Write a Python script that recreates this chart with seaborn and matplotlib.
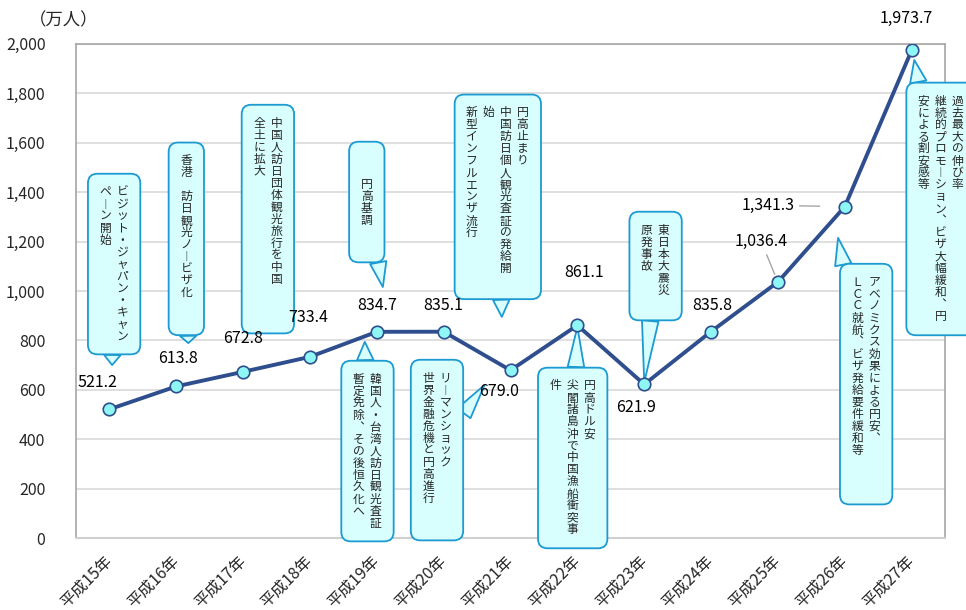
import seaborn as sns
import pandas as pd
import matplotlib.pyplot as plt

# 訪日外客数 (万人)
years = ["平成15年", "平成16年", "平成17年", "平成18年", "平成19年", "平成20年", "平成21年",
         "平成22年", "平成23年", "平成24年", "平成25年", "平成26年", "平成27年"]
visitors = [521.2, 613.8, 672.8, 733.4, 834.7, 835.1, 679.0,
            861.1, 621.9, 835.8, 1036.4, 1341.3, 1973.7]
y_ticks = list(range(0, 2001, 200))

# callout texts, one list of columns each (read right to left)
notes = [
    ["ビジット・ジャパン・キャン", "ペーン開始"],
    ["香港　訪日観光ノービザ化"],
    ["中国人訪日団体観光旅行を中国", "全土に拡大"],
    ["円高基調"],
    ["円高止まり", "中国訪日個人観光査証の発給開", "始", "新型インフルエンザ流行"],
    ["韓国人・台湾人訪日観光査証", "暫定免除、その後恒久化へ"],
    ["リーマンショック", "世界金融危機と円高進行"],
    ["円高ドル安", "尖閣諸島沖で中国漁船衝突事", "件"],
    ["東日本大震災", "原発事故"],
    ["アベノミクス効果による円安、", "ＬＣＣ就航、ビザ発給要件緩和等"],
    ["過去最大の伸び率", "継続的プロモーション、ビザ大幅緩和、円", "安による割安感等"],
]

# layout: box centre (x, y), tail tip (x, y) in data units, blank rows above / below
note_pos = [
    ((0.07, 1109), (0.04, 700), 0, 0),
    ((1.15, 1211), (1.18, 789), 0, 2),
    ((2.37, 1291), (2.37, 830), 0, 3),
    ((3.85, 1360), (4.09, 1016), 2, 2),
    ((5.81, 1381), (5.87, 895), 0, 1),
    ((3.86, 352), (3.82, 794), 0, 0),
    ((4.90, 356), (5.61, 619), 0, 2),
    ((6.93, 324), (7.0, 854), 0, 0),
    ((8.17, 1101), (8.0, 630), 0, 1),
    ((11.32, 623), (10.90, 1215), 0, 3),
    ((12.44, 1332), (12.04, 1935), 0, 0),
]

# value label offsets (points)
label_off = [(-9, 19), (1, 20), (0, 24), (-1, 28), (0, 19), (0, 19), (-8, -15),
             (5, 38), (-6, -17), (1, 19), (-12, 29), (-55, 1), (-4, 23)]

line_color = "#2F4E8E"
box_fc = "#D8FEFE"
box_ec = "#1C9AD2"


def vertical(cols, top=0, bottom=0):
    # 縦書き: first column on the right
    vmap = {"ー": "︱", "、": "︑"}
    cols = [[vmap.get(c, c) for c in col] for col in cols]
    n = max(len(c) for c in cols)
    rows = ["　"] * top
    for i in range(n):
        cells = [col[i] if i < len(col) else "　" for col in reversed(cols)]
        rows.append("  ".join(cells))
    rows += ["　"] * bottom
    return "\n".join(rows)


sns.set_theme(style="white")
plt.rcParams['font.family'] = ['Noto Sans CJK JP', 'DejaVu Sans']

df = pd.DataFrame({"year": years, "visitors": visitors})

fig = plt.figure(figsize=(9.66, 6.1), dpi=100)
ax = fig.add_axes([0.0787, 0.118, 0.8996, 0.81])

sns.lineplot(data=df, x="year", y="visitors", sort=False, color=line_color, lw=2.8,
             marker="o", markersize=9, markerfacecolor="#8FF6F6",
             markeredgecolor=line_color, markeredgewidth=1.2, ax=ax, zorder=5)

ax.set_xlim(-0.5, len(years) - 0.5)
ax.set_ylim(0, 2000)
ax.set_yticks(y_ticks)
ax.set_yticklabels([f"{t:,}" for t in y_ticks], fontsize=11.5)
ax.set_xticks(range(len(years)))
ax.set_xticklabels(years, rotation=45, ha="right", va="center",
                   rotation_mode="anchor", fontsize=11.5)
ax.tick_params(axis="both", length=0)
ax.tick_params(axis="x", pad=15)
ax.tick_params(axis="y", pad=22)
ax.set_xlabel("")
ax.set_ylabel("")
ax.grid(axis="y", color="#D9D9D9", lw=1.2)
ax.set_axisbelow(True)
for side in ["left", "right", "top"]:
    ax.spines[side].set_color("#A6A6A6")
    ax.spines[side].set_linewidth(1.2)
ax.spines["bottom"].set_color("#D0D0D0")
ax.spines["bottom"].set_linewidth(1.5)

fig.text(64 / 966, 1 - 20 / 610, "（万人）", ha="center", va="center", fontsize=12.5)

# value labels
for i, v in enumerate(visitors):
    kw = {}
    if i in (10, 11):
        kw = dict(arrowprops=dict(arrowstyle="-", color="#A6A6A6", lw=1,
                                  shrinkA=1, shrinkB=6 if i == 10 else 18))
    ax.annotate(f"{v:,.1f}", xy=(i, v), xytext=label_off[i], textcoords="offset points",
                ha="center", va="center", fontsize=11.5, color="black", zorder=6,
                annotation_clip=False, **kw)

# callouts
for cols, (centre, tip, top, bottom) in zip(notes, note_pos):
    ax.annotate(vertical(cols, top, bottom), xy=tip, xytext=centre, ha="center", va="center",
                fontsize=8.5, linespacing=0.9, multialignment="left", zorder=4,
                annotation_clip=False,
                bbox=dict(boxstyle="round,pad=1.0,rounding_size=0.8", fc=box_fc,
                          ec=box_ec, lw=1.3),
                arrowprops=dict(arrowstyle="wedge,tail_width=1.4,shrink_factor=0.5",
                                fc=box_fc, ec=box_ec, lw=1.3, shrinkA=0, shrinkB=0))

fig.savefig("out.png", dpi=100)
